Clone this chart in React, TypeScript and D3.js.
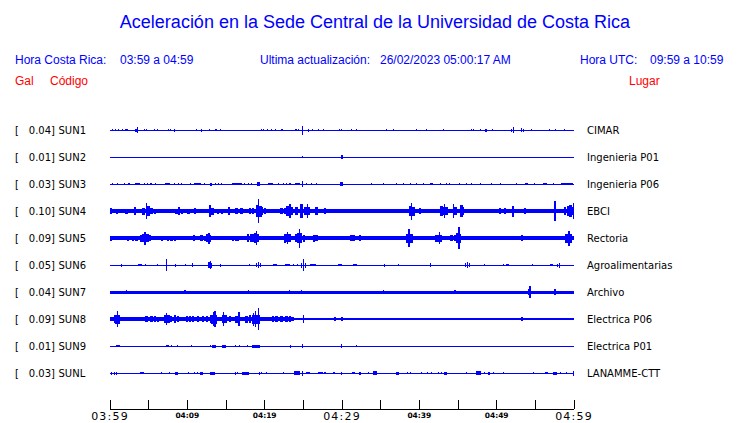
import React from "react";
import * as d3 from "d3";

// ---------- data ----------
const TITLE = "Aceleración en la Sede Central de la Universidad de Costa Rica";
const CODES = ["SUN1", "SUN2", "SUN3", "SUN4", "SUN5", "SUN6", "SUN7", "SUN8", "SUN9", "SUNL"];
const PEAKS = ["0.04", "0.01", "0.03", "0.10", "0.09", "0.05", "0.04", "0.09", "0.01", "0.03"];
const PLACES = ["CIMAR", "Ingenieria P01", "Ingenieria P06", "EBCI", "Rectoria", "Agroalimentarias", "Archivo", "Electrica P06", "Electrica P01", "LANAMME-CTT"];
// background noise half-amplitude of each trace
const NOISE = [0.5, 0.5, 0.5, 2.1, 2.1, 0.5, 1.5, 1.4, 0.5, 0.5];
// typical duration (minutes) of one burst on each trace
const BURST_LEN = [0.12, 0.12, 0.12, 0.3, 0.3, 0.12, 0.15, 0.3, 0.12, 0.12];

// bursts: [minutes after 03:59, half amplitude, duration in minutes]
type Burst = [number, number, number?];
const SUN1: Burst[] = [[0.3,1.3],[0.65,1],[1.08,1],[1.59,1],[2.16,1,0.35],[3.45,1.5,0.4],[3.53,2.7],[4.4,1],[4.7,1.2],[5.73,1],[6.12,1.3],[7.54,1.2],[7.84,1.2],[8.4,1.5],[11.21,1],[11.77,1.5],[12.84,1],[13.58,1.2],[13.79,1.2],[14.22,1.2],[19.52,1.2],[19.83,1.2],[20.34,1.3],[20.9,1],[21.38,1],[22.28,1.3,0.3],[24.05,1.3],[24.35,1],[24.91,4.5],[25.64,1.5],[26.12,1],[26.94,1],[27.63,1.3],[29.65,1.3],[29.87,1.3],[31.25,1.3],[31.89,1],[35.77,1.2],[36.68,1.3],[39.65,1],[40.95,1],[43.1,1],[46.76,1.3],[46.98,1.3],[47.93,1],[48.62,1.5,0.3],[49.44,1],[51.94,1.5],[52.19,2.7],[53.23,2.2],[53.44,1.5],[54.52,1],[56.81,1],[57.54,1],[58.83,1.3]];
const SUN2: Burst[] = [[24.91,1.4],[29.95,1.7,0.25]];
const SUN3: Burst[] = [[0.3,1],[0.99,1,0.2],[1.85,1],[2.45,1,0.3],[3.57,1,0.65],[4.44,1],[4.87,1],[5.3,1],[5.82,1],[7.41,1,0.65],[8.31,1],[8.83,1],[9.26,1,0.2],[10.34,1],[10.99,1,0.3],[11.42,1,0.6],[12.28,1],[13.06,1.5,0.3],[13.57,1],[14.0,1],[14.44,1],[16.37,1,1.3],[17.45,1],[17.88,1],[18.31,1],[19.18,1.7,0.4],[20.77,1,0.65],[21.76,1],[22.41,1],[22.84,1],[23.27,1.4,0.3],[24.22,1,0.65],[24.91,2.7],[25.43,1],[26.07,1],[26.72,1],[29.95,1.7,0.3],[33.83,1],[35.34,1],[37.06,1],[37.92,1],[38.79,1],[39.65,1],[40.51,1],[41.59,1,0.4],[42.67,1],[43.53,1],[43.96,1],[45.25,1],[46.11,1],[46.76,1],[47.84,1],[49.35,1],[50.42,1],[52.58,1],[53.87,1,0.4],[54.95,1],[56.24,1,0.5],[57.32,1],[59.13,1,1.5]];
const SUN4: Burst[] = [[0.13,3.3],[0.86,2.5],[1.29,2.3],[2.15,2.5],[3.23,4],[4.31,3.5],[4.74,8,0.15],[4.9,5,0.6],[5.38,3],[5.82,2.5],[8.62,2.5],[8.92,4],[9.26,2.5],[10.13,2.5],[10.99,2.7],[12.93,5.7,0.15],[13.1,3.5,0.6],[14.0,2.5],[14.52,2.5],[15.38,4],[16.37,3.3],[17.02,2.7],[18.1,3.3],[18.53,3.3],[18.96,6],[19.18,11.7,0.15],[19.3,5.5,0.6],[19.69,4],[20.04,2.7],[22.19,3],[22.62,3.3],[22.97,5],[23.27,7.3,0.15],[23.3,4,0.6],[24.13,4],[24.78,6.7],[25.21,4],[25.55,7.3,0.15],[25.6,4,0.6],[26.72,4],[27.8,3.3],[29.74,2.3],[30.17,2.3],[31.03,2.3],[32.11,2.3],[33.83,2.2],[35.12,2.2],[37.06,2.3],[38.14,2.3],[38.36,2.3],[38.79,5],[39.0,8.5,0.15],[39.1,4.5,0.6],[40.08,2.7],[42.88,5],[43.31,6.7,0.15],[43.3,4,0.7],[44.39,6.7,0.15],[44.6,4,0.6],[45.47,6],[45.68,4],[47.19,2.3],[48.05,2.3],[48.92,2.3],[50.42,2.7],[51.07,2.7],[52.15,5.5],[53.66,3.3],[57.54,10,0.15],[58.83,4],[59.26,5],[59.56,6],[59.91,8,0.15],[59.6,4,0.7]];
const SUN5: Burst[] = [[0.13,2.5],[2.37,2.5],[3.01,2.5],[3.44,2.5],[4.09,3.5],[4.52,6.5,0.15],[4.6,4,0.8],[5.17,3],[5.6,2.3],[6.68,2.5],[7.54,2.5],[7.97,2.5],[8.4,2.5],[9.26,2.3],[10.9,3],[11.85,3],[12.28,2.5],[12.5,4],[12.8,5.5,0.15],[12.8,3.5,0.6],[14.0,2.3],[14.87,2.3],[15.94,2.5],[16.37,2.5],[16.59,2.5],[17.88,4],[18.31,4],[18.75,5],[18.96,7,0.15],[18.9,4,0.8],[20.47,2.3],[21.76,2.3],[22.62,4.5],[22.97,6,0.15],[22.95,4,0.8],[24.13,4],[24.48,9.5,0.15],[24.5,5,0.6],[25.12,3.5],[26.42,3.5],[26.72,3.3],[27.8,2.2],[29.52,2.2],[31.24,2.7],[31.46,3.3],[32.32,2.7],[33.83,2.3],[35.55,2.2],[38.36,4.5],[38.66,9,0.15],[38.8,4.5,0.7],[39.86,2.3],[42.23,3.5],[42.58,6,0.15],[42.6,3.5,0.6],[44.17,3],[44.61,3],[44.95,5],[45.12,11,0.15],[45.2,4.5,0.5],[46.76,2.3],[47.19,2.3],[47.62,2.3],[48.92,2.3],[50.21,2.3],[51.07,2.3],[53.23,3.3],[54.52,2.3],[55.81,2.3],[57.1,2.3],[59.04,4.5],[59.35,7.5,0.15],[59.4,4.5,0.8]];
const SUN6: Burst[] = [[1.51,1.5],[3.88,1.3,0.5],[4.52,1.3],[6.16,1.3],[7.24,6],[8.49,1.5],[9.78,1.3],[10.69,2],[12.8,3],[12.97,4],[13.14,2.5],[14.22,1.5],[18.1,1],[18.96,2.2],[19.18,2.7],[19.39,2],[21.33,1.3,0.5],[22.97,1.3,0.6],[23.7,1.3],[24.26,1.3],[24.78,2.5],[25.04,6],[25.3,2.5],[26.29,1.3,0.8],[29.78,1.3,0.5],[31.68,1.3,0.6],[35.47,1.5],[37.28,1.3],[41.5,2],[45.98,2],[46.24,3],[46.54,2],[48.48,1.3],[50.85,1.3],[51.41,1.3,0.3],[54.65,1.3],[57.1,1.3,0.4],[57.88,1.5],[58.18,2.5]];
const SUN7: Burst[] = [[2.15,2.2],[9.69,2.2],[17.88,2.2],[23.18,2.2],[24.78,2.4],[35.34,2.2],[44.61,2.2],[54.09,2.7],[54.3,5.8],[57.54,3]];
const SUN8: Burst[] = [[12,2.2,23.5],[0.13,1.7],[0.64,4],[0.99,8.3,0.15],[1.0,4.5,0.7],[2.15,1.7],[3.01,1.7],[3.66,1.5],[4.74,2.7],[5.38,2.7],[5.82,3.3],[6.25,2.5],[7.11,4],[7.32,6,0.15],[7.45,4,0.7],[7.88,3],[8.4,4],[8.83,3.3],[9.91,3.3],[10.34,3.3],[10.77,3],[11.42,2.7],[12.06,3.3],[12.5,3],[13.06,4],[13.36,7,0.15],[13.57,8.3,0.15],[13.5,4.5,0.8],[14.65,6.8,0.15],[14.8,4,0.6],[15.51,3.3],[16.37,3.5],[16.68,7,0.15],[16.6,3.5,0.5],[17.67,3.5],[18.1,4],[18.53,6.5,0.15],[18.83,8,0.15],[19.18,11,0.15],[18.9,4.5,1],[21.12,3.3],[21.55,3],[22.19,2.7],[22.84,2.7],[23.27,3.3],[24.99,4,0.15],[29.09,1.7],[30.04,2.3],[53.23,1.7]];
const SUN9: Burst[] = [[0.99,1.3,0.55],[7.41,1.3,0.3],[7.97,1],[8.7,1],[10.56,1],[12.93,1.3],[13.49,1.5,0.55],[14.78,1.5,0.55],[16.25,1.3],[16.72,1.3],[17.8,1],[18.87,1.5,1.0],[23.36,1.5],[24.91,2.3],[29.95,2],[31.89,1]];
const SUNL: Burst[] = [[0.21,1.5],[0.56,1.5],[0.86,1.5],[4.13,1.3,0.55],[6.59,1.3],[7.63,1.3],[8.62,1.5,0.45],[10.13,1.3],[10.9,1.3],[11.33,1.3],[11.85,1.5,0.45],[13.23,1.5,0.65],[16.25,1.5],[16.5,1],[17.5,1.5,0.95],[19.31,1.5],[19.61,1],[20.17,1],[22.41,1.3],[24.18,2,0.7],[24.91,2.5],[25.6,1.3,0.5],[27.24,1.3,0.6],[27.8,1.3],[29.0,1.3,0.3],[29.95,1.5],[31.46,1.3,0.3],[32.32,1.5,0.3],[33.4,1.3],[34.26,2,0.45],[37.15,1.5,0.35],[38.44,1.3],[38.79,1.3],[40.3,1.3],[41.07,1.3],[41.59,1.3],[42.45,1.3],[42.88,1.3],[43.4,1.5,0.3],[46.11,1.3],[47.71,1.7,0.65],[48.48,1],[49.0,1.5,0.3],[49.65,1.3],[50.94,1],[54.73,1.3],[56.46,1.3,0.45],[57.54,1.5,0.45],[58.27,1.3],[59.04,1.3],[59.91,2.5]];
const BURSTS = [SUN1, SUN2, SUN3, SUN4, SUN5, SUN6, SUN7, SUN8, SUN9, SUNL];

const START = new Date(2023, 1, 26, 3, 59);
const END = new Date(2023, 1, 26, 4, 59);
const TICK_MINUTES = d3.range(0, 61, 5);
const MAJOR_MINUTES = [0, 30, 60];
const LABEL_MINUTES = [0, 10, 20, 30, 40, 50, 60];

const BLUE = "#0000ff";
const RED = "#ff0000";
const SANS = "'Liberation Sans', Arial, sans-serif";
const DEJAVU = "'DejaVu Sans', sans-serif";

export default function App() {
  const x = d3.scaleTime().domain([START, END]).range([110, 574]);
  const at = (m: number) => d3.timeSecond.offset(START, Math.round(m * 60));
  const row = d3.scalePoint<string>().domain(CODES).range([130, 373]);
  const fmt = d3.timeFormat("%H:%M");
  const axisY = 409;

  return (
    <svg width={740} height={423} style={{ position: "fixed", left: 0, top: 0, background: "#fff" }}>
      <text x={375} y={28} textAnchor="middle" fontFamily={SANS} fontSize={18} fill={BLUE}>{TITLE}</text>
      <g fontFamily={SANS} fontSize={12} fill={BLUE}>
        <text x={15} y={64}>Hora Costa Rica:</text>
        <text x={120} y={64}>03:59 a 04:59</text>
        <text x={260} y={64}>Ultima actualización:</text>
        <text x={380} y={64}>26/02/2023 05:00:17 AM</text>
        <text x={580} y={64}>Hora UTC:</text>
        <text x={650} y={64}>09:59 a 10:59</text>
      </g>
      <g fontFamily={SANS} fontSize={12} fill={RED}>
        <text x={15} y={85}>Gal</text>
        <text x={50} y={85}>Código</text>
        <text x={629} y={85}>Lugar</text>
      </g>
      {CODES.map((code, i) => {
        const c = row(code)!;
        const y = d3.scaleLinear().domain([-13.5, 13.5]).range([c + 13.5, c - 13.5]);
        return (
          <g key={code}>
            <g fontFamily={DEJAVU} fontSize={10} fill="#000">
              <text x={15} y={c + 4}>[</text>
              <text x={55} y={c + 4} textAnchor="end">{PEAKS[i]}]</text>
              <text x={58.5} y={c + 4}>{code}</text>
              <text x={587} y={c + 4}>{PLACES[i]}</text>
            </g>
            <g fill={BLUE} shapeRendering="crispEdges">
              <rect x={x(START)} width={x(END) - x(START)} y={y(NOISE[i])} height={Math.max(1, y(-NOISE[i]) - y(NOISE[i]))} />
              {BURSTS[i].map(([m, a, w], j) => {
                const d = w ?? BURST_LEN[i];
                const x0 = x(at(Math.max(0, m - d / 2)));
                const x1 = x(at(Math.min(60, m + d / 2)));
                return <rect key={j} x={x0} width={Math.max(1, x1 - x0)} y={y(a)} height={y(-a) - y(a)} />;
              })}
            </g>
          </g>
        );
      })}
      <g>
        <line x1={x(START)} x2={x(END)} y1={axisY} y2={axisY} stroke="#000" strokeWidth={1} shapeRendering="crispEdges" />
        {TICK_MINUTES.map((m) => (
          <line key={m} x1={x(at(m))} x2={x(at(m))} y1={axisY} y2={axisY - 9} stroke="#000" strokeWidth={1} shapeRendering="crispEdges" />
        ))}
        {LABEL_MINUTES.map((m) => {
          const major = MAJOR_MINUTES.includes(m);
          return (
            <text key={m} x={x(at(m))} y={major ? 420 : 418} textAnchor="middle" fontFamily={DEJAVU}
              fontSize={major ? 11 : 7.5} fontWeight={major ? "normal" : "bold"} letterSpacing={major ? 1.2 : 0} fill="#000">
              {fmt(at(m))}
            </text>
          );
        })}
      </g>
    </svg>
  );
}
